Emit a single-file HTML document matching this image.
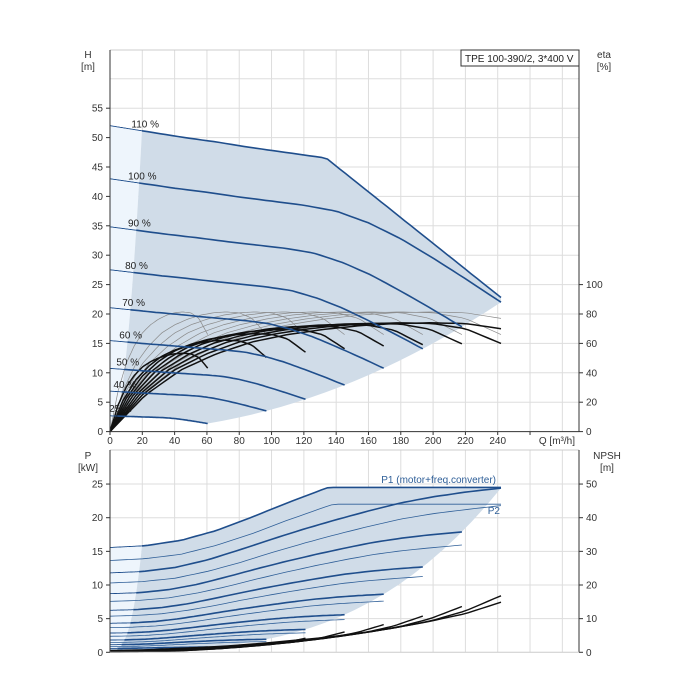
<!DOCTYPE html>
<html><head><meta charset="utf-8"><style>
body{margin:0;background:#fff;}
svg{display:block;font-family:"Liberation Sans",sans-serif;}
</style></head><body>
<svg id="c" width="700" height="700" viewBox="0 0 700 700"></svg>
<script>
const speeds=[1.1,1.0,0.9,0.8,0.7,0.6,0.5,0.4,0.25];
const speedLabels=['110 %','100 %','90 %','80 %','70 %','60 %','50 %','40 %','25 %'];
const qBase=[0,20,40,60,80,100,120,140,160,180,200,220,242];
const hBase=[43,42.2,41.4,40.7,39.9,39.2,38.5,37.5,35.5,32.8,29.5,26,22];
const etaBase=[0,25,42,53,61,66,69.5,72,73.5,74,73.5,70,60];
const etaFactor=[1,1,0.995,0.985,0.97,0.94,0.9,0.84,0.72];
const p1Base=[11.4,11.6,12.2,13.3,14.8,16.4,17.9,19.3,20.6,21.8,22.7,23.4,24];
const p2Base=[10.1,10.3,10.8,11.8,13.1,14.6,16.0,17.3,18.5,19.6,20.4,21.0,21.6];
const npshBase=[0.4,0.6,1.0,1.4,2.0,2.8,3.6,4.7,6.0,7.6,9.5,12.3,16.8];
const qTicks=[0,20,40,60,80,100,120,140,160,180,200,220,240];
const hTicks=[0,5,10,15,20,25,30,35,40,45,50,55];
const etaTicks=[0,20,40,60,80,100];
const pTicks=[0,5,10,15,20,25];
const npshTicks=[0,10,20,30,40,50];
const qMinBase=18, qEndBase=242, p1Limit=24.5, p2Limit=22, h110End=22.8;

const X=q=>110+q*1.6155;
const HY=h=>431.6-h*5.88;
const EY=e=>431.6-e*1.47;
const PY=p=>652.3-p*6.73;
const NY=n=>PY(n/2);
const svg=document.getElementById('c');
const NS='http://www.w3.org/2000/svg';
function mk(tag,attrs,parent){const e=document.createElementNS(NS,tag);for(const k in attrs)e.setAttribute(k,attrs[k]);(parent||svg).appendChild(e);return e;}
function interp(arr,q){if(q<=qBase[0])return arr[0];for(let i=1;i<qBase.length;i++){if(q<=qBase[i]){const t=(q-qBase[i-1])/(qBase[i]-qBase[i-1]);return arr[i-1]+t*(arr[i]-arr[i-1]);}}return arr[arr.length-1];}
function H(n,q){let h=n*n*interp(hBase,q/n);if(n>1.05){const qk=134,hk=n*n*interp(hBase,qk/n);if(q>qk){h=hk+(q-qk)/(qEndBase-qk)*(h110End-hk);}}return h;}
function qEnd(n){return Math.min(qEndBase*n,qEndBase);}
function P1(n,q){return Math.min(n*n*n*interp(p1Base,q/n)+0.4,p1Limit);}
function P2(n,q){return Math.min(n*n*n*interp(p2Base,q/n)+0.2,p2Limit);}
function path(fn,q0,q1,fx,fy){let d='';const N=60;for(let i=0;i<=N;i++){const q=q0+(q1-q0)*i/N;d+=(i?'L':'M')+fx(q).toFixed(1)+','+fy(fn(q)).toFixed(1);}return d;}

// grids
const gTop=mk('g',{});
for(let q=0;q<=280;q+=20)mk('line',{x1:X(q),x2:X(q),y1:50,y2:431.6,stroke:'#dddddd'},gTop);
for(let h=5;h<=60;h+=5)mk('line',{x1:110,x2:579,y1:HY(h),y2:HY(h),stroke:'#dddddd'},gTop);
mk('line',{x1:110,x2:579,y1:50,y2:50,stroke:'#cccccc'},gTop);
const gBot=mk('g',{});
for(let q=0;q<=280;q+=20)mk('line',{x1:X(q),x2:X(q),y1:450,y2:652.3,stroke:'#dddddd'},gBot);
for(let p=5;p<=25;p+=5)mk('line',{x1:110,x2:579,y1:PY(p),y2:PY(p),stroke:'#dddddd'},gBot);
mk('line',{x1:110,x2:579,y1:450,y2:450,stroke:'#cccccc'},gBot);

// shaded regions top
function regionTop(){let pts=[];
 for(let i=0;i<=20;i++){const n=0.25+(1.1-0.25)*i/20;const q=qMinBase*n;pts.push([X(q),HY(H(n,q))]);}
 for(let i=0;i<=40;i++){const q=qMinBase*1.1+(qEndBase-qMinBase*1.1)*i/40;pts.push([X(q),HY(H(1.1,q))]);}
 for(let i=0;i<=20;i++){const n=1.0-(0.75)*i/20;const q=qEndBase*n;pts.push([X(q),HY(H(n,q))]);}
 for(let i=0;i<=20;i++){const q=qEndBase*0.25-(qEndBase*0.25-qMinBase*0.25)*i/20;pts.push([X(q),HY(H(0.25,q))]);}
 return pts.map(p=>p.join(',')).join(' ');}
function lightTop(){let pts=[[X(0),HY(0)],[X(0),HY(H(1.1,0))]];
 for(let i=0;i<=10;i++){const q=qMinBase*1.1*i/10;pts.push([X(q),HY(H(1.1,q))]);}
 for(let i=0;i<=20;i++){const n=1.1-1.1*i/20;const q=qMinBase*n;pts.push([X(q),HY(H(n,q))]);}
 return pts.map(p=>p.join(',')).join(' ');}
const lt=mk('polygon',{points:lightTop(),fill:'#eef5fc'});

const rt=mk('polygon',{points:regionTop(),fill:'#d0dce8'});


// bottom regions
function regionBot(){let pts=[];
 for(let i=0;i<=20;i++){const n=0.25+(0.85)*i/20;const q=qMinBase*n;pts.push([X(q),PY(P1(n,q))]);}
 for(let i=0;i<=40;i++){const q=qMinBase*1.1+(qEndBase-qMinBase*1.1)*i/40;pts.push([X(q),PY(P1(1.1,q))]);}
 for(let i=0;i<=20;i++){const n=1.0-0.75*i/20;const q=qEndBase*n;pts.push([X(q),PY(P1(n,q))]);}
 for(let i=0;i<=20;i++){const q=qEndBase*0.25-(qEndBase*0.25-qMinBase*0.25)*i/20;pts.push([X(q),PY(P1(0.25,q))]);}
 return pts.map(p=>p.join(',')).join(' ');}
function lightBot(){let pts=[[X(0),PY(0)],[X(0),PY(P1(1.1,0))]];
 for(let i=0;i<=10;i++){const q=qMinBase*1.1*i/10;pts.push([X(q),PY(P1(1.1,q))]);}
 for(let i=0;i<=20;i++){const n=1.1-1.1*i/20;const q=qMinBase*n;pts.push([X(q),PY(n>0.01?P1(n,q):0)]);}
 return pts.map(p=>p.join(',')).join(' ');}
const lb=mk('polygon',{points:lightBot(),fill:'#eef5fc'});

const rb=mk('polygon',{points:regionBot(),fill:'#d0dce8'});


// efficiency curves
speeds.forEach((n,i)=>{
 const e1=mk('path',{d:path(q=>Math.min(1.1*interp(etaBase,q/n),83),0,qEnd(n),X,EY),fill:'none',stroke:'#8a8a8a','stroke-width':0.7});
 
});
speeds.forEach((n,i)=>{
 const e2=mk('path',{d:path(q=>etaFactor[i]*interp(etaBase,q/n),0,qEnd(n),X,EY),fill:'none',stroke:'#111','stroke-width':1.5});
 
});
// QH curves
speeds.forEach((n,i)=>{
 const a=mk('path',{d:path(q=>H(n,q),0,qMinBase*n,X,HY),fill:'none',stroke:'#1f4e8c','stroke-width':0.9});
 
 const b=mk('path',{d:path(q=>H(n,q),qMinBase*n,qEnd(n),X,HY),fill:'none',stroke:'#1f4e8c','stroke-width':1.6});
 
 const t=mk('text',{x:X(2+18*n),y:HY(H(n,2+18*n))-4,'font-size':10,fill:'#222','text-anchor':'middle'});
 t.textContent=speedLabels[i];
 
});
// power curves
speeds.forEach((n,i)=>{
 const a=mk('path',{d:path(q=>P2(n,q),0,qEnd(n),X,PY),fill:'none',stroke:'#2f5f98','stroke-width':0.8});
 
 const b=mk('path',{d:path(q=>P1(n,q),0,qMinBase*n,X,PY),fill:'none',stroke:'#1f4e8c','stroke-width':0.9});
 
 const c=mk('path',{d:path(q=>P1(n,q),qMinBase*n,qEnd(n),X,PY),fill:'none',stroke:'#1f4e8c','stroke-width':1.6});
 
});
// NPSH curves
speeds.forEach((n,i)=>{
 const a=mk('path',{d:path(q=>n*n*interp(npshBase,q/n),0,qEnd(n),X,NY),fill:'none',stroke:'#111','stroke-width':1.4});
 
});

// axes
const ax=mk('g',{stroke:'#333','stroke-width':1});
mk('line',{x1:110,x2:110,y1:50,y2:431.6},ax);mk('line',{x1:579,x2:579,y1:50,y2:431.6},ax);
mk('line',{x1:110,x2:579,y1:431.6,y2:431.6},ax);
mk('line',{x1:110,x2:110,y1:450,y2:652.3},ax);mk('line',{x1:579,x2:579,y1:450,y2:652.3},ax);
mk('line',{x1:110,x2:579,y1:652.3,y2:652.3,stroke:'#ccc'},ax);
function txt(s,x,y,anchor,name,color){const t=mk('text',{x:x,y:y,'font-size':10,fill:color||'#333','text-anchor':anchor||'middle'});t.textContent=s;return t;}
qTicks.forEach(q=>{mk('line',{x1:X(q),x2:X(q),y1:431.6,y2:435},ax);txt(String(q),X(q),444,'middle','x-tick-label');});
mk('line',{x1:X(260),x2:X(260),y1:431.6,y2:435},ax);
hTicks.forEach(h=>{mk('line',{x1:106,x2:110,y1:HY(h),y2:HY(h)},ax);txt(String(h),103,HY(h)+3.5,'end','h-tick-label');});
etaTicks.forEach(e=>{mk('line',{x1:579,x2:583,y1:EY(e),y2:EY(e)},ax);txt(String(e),586,EY(e)+3.5,'start','eta-tick-label');});
pTicks.forEach(p=>{mk('line',{x1:106,x2:110,y1:PY(p),y2:PY(p)},ax);txt(String(p),103,PY(p)+3.5,'end','p-tick-label');});
npshTicks.forEach(n=>{mk('line',{x1:579,x2:583,y1:NY(n),y2:NY(n)},ax);txt(String(n),586,NY(n)+3.5,'start','npsh-tick-label');});

txt('H',88,58,'middle','h-axis-title');txt('[m]',88,70,'middle','h-axis-unit');
txt('eta',604,58,'middle','eta-axis-title');txt('[%]',604,70,'middle','eta-axis-unit');
txt('P',88,459,'middle','p-axis-title');txt('[kW]',88,471,'middle','p-axis-unit');
txt('NPSH',607,459,'middle','npsh-axis-title');txt('[m]',607,471,'middle','npsh-axis-unit');
txt('Q [m³/h]',575,444,'end','q-axis-title');
const box=mk('rect',{x:461,y:50,width:118,height:16,fill:'#fff',stroke:'#333'});

txt('TPE 100-390/2, 3*400 V',465,62,'start','pump-title','#222');
txt('P1 (motor+freq.converter)',496,483,'end','p1-label','#2f5f98');
txt('P2',500,514,'end','p2-label','#2f5f98');
</script>
</body></html>
